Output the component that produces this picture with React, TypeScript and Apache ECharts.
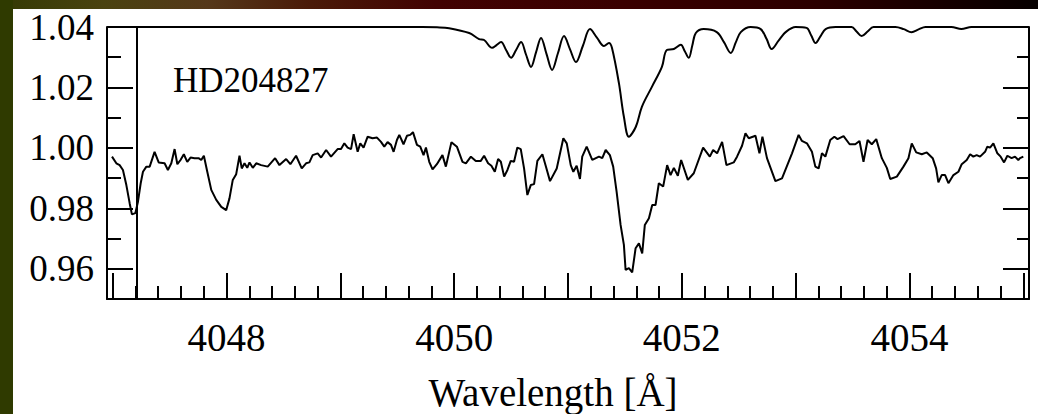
import React, { useEffect, useRef } from "react";
import * as echarts from "echarts";

// Axis ranges
const X_MIN = 4046.95;
const X_MAX = 4055.05;
const Y_MIN = 0.95;
const Y_MAX = 1.04;

const starName = "HD204827";
const xTitle = "Wavelength [Å]";

// Tick positions
const xMajorTicks = [4047, 4048, 4049, 4050, 4051, 4052, 4053, 4054, 4055];
const xLabelTicks = [4048, 4050, 4052, 4054];
const yMajorTicks = [0.96, 0.98, 1.0, 1.02, 1.04];
const yMinorTicks = [0.97, 0.99, 1.01, 1.03];

// Vertical marker line
const markerWavelength = 4047.21;

// Upper (smooth) reference spectrum
const referenceWavelength = [
  4046.95, 4049.719, 4049.85, 4049.956, 4050.132, 4050.219, 4050.263, 4050.333, 4050.372, 4050.412,
  4050.456, 4050.5, 4050.544, 4050.588, 4050.631, 4050.675, 4050.719, 4050.763, 4050.811, 4050.86,
  4050.912, 4050.965, 4051.017, 4051.07, 4051.131, 4051.193, 4051.254, 4051.316, 4051.36, 4051.386,
  4051.447, 4051.491, 4051.535, 4051.596, 4051.649, 4051.737, 4051.825, 4051.868, 4051.93, 4051.991,
  4052.026, 4052.061, 4052.092, 4052.123, 4052.193, 4052.307, 4052.37, 4052.43, 4052.474, 4052.518,
  4052.605, 4052.693, 4052.745, 4052.789, 4052.85, 4052.912, 4053.0, 4053.096, 4053.137, 4053.175,
  4053.219, 4053.263, 4053.351, 4053.491, 4053.535, 4053.579, 4053.632, 4053.684, 4053.877, 4053.95,
  4054.018, 4054.08, 4054.14, 4054.368, 4054.456, 4054.544, 4055.05,
];
const referenceFlux = [
  1.04, 1.04, 1.0399, 1.0396, 1.038, 1.036, 1.0357, 1.0331, 1.034, 1.035,
  1.0324, 1.0298, 1.0324, 1.035, 1.0309, 1.0268, 1.0316, 1.0364, 1.0311, 1.0258,
  1.0314, 1.037, 1.0327, 1.0284, 1.0338, 1.0393, 1.0365, 1.0337, 1.0347, 1.0331,
  1.0215, 1.0103, 1.0037, 1.007, 1.0136, 1.0202, 1.0268, 1.0324, 1.0327, 1.0341,
  1.032, 1.0298, 1.0339, 1.038, 1.0393, 1.0383, 1.035, 1.0314, 1.0349, 1.0383,
  1.04, 1.0393, 1.036, 1.0327, 1.0355, 1.0383, 1.04, 1.0397, 1.0372, 1.0347,
  1.037, 1.0393, 1.04, 1.04, 1.0385, 1.037, 1.0385, 1.04, 1.04, 1.0393,
  1.0383, 1.0392, 1.04, 1.04, 1.0393, 1.04, 1.04,
];

// Lower (observed) spectrum
const observedWavelength = [
  4046.994, 4047.032, 4047.061, 4047.09, 4047.12, 4047.149, 4047.169, 4047.199, 4047.222, 4047.246,
  4047.266, 4047.296, 4047.325, 4047.368, 4047.404, 4047.456, 4047.485, 4047.515, 4047.544, 4047.568,
  4047.596, 4047.625, 4047.655, 4047.684, 4047.719, 4047.754, 4047.778, 4047.801, 4047.831, 4047.866,
  4047.91, 4047.954, 4047.997, 4048.026, 4048.055, 4048.085, 4048.114, 4048.134, 4048.158, 4048.182,
  4048.202, 4048.231, 4048.261, 4048.304, 4048.362, 4048.427, 4048.465, 4048.524, 4048.561, 4048.611,
  4048.661, 4048.699, 4048.728, 4048.757, 4048.801, 4048.831, 4048.875, 4048.918, 4048.976, 4049.006,
  4049.035, 4049.064, 4049.094, 4049.117, 4049.152, 4049.175, 4049.204, 4049.24, 4049.283, 4049.322,
  4049.357, 4049.386, 4049.415, 4049.445, 4049.468, 4049.497, 4049.518, 4049.555, 4049.585, 4049.614,
  4049.638, 4049.673, 4049.702, 4049.731, 4049.752, 4049.781, 4049.81, 4049.848, 4049.897, 4049.927,
  4049.976, 4050.024, 4050.073, 4050.103, 4050.147, 4050.19, 4050.234, 4050.263, 4050.298, 4050.327,
  4050.357, 4050.386, 4050.41, 4050.439, 4050.468, 4050.497, 4050.526, 4050.555, 4050.585, 4050.614,
  4050.643, 4050.673, 4050.702, 4050.731, 4050.775, 4050.804, 4050.842, 4050.901, 4050.959, 4050.989,
  4051.024, 4051.047, 4051.076, 4051.105, 4051.125, 4051.164, 4051.213, 4051.272, 4051.301, 4051.331,
  4051.368, 4051.397, 4051.427, 4051.462, 4051.491, 4051.506, 4051.535, 4051.564, 4051.594, 4051.623,
  4051.652, 4051.675, 4051.711, 4051.74, 4051.769, 4051.798, 4051.836, 4051.871, 4051.901, 4051.93,
  4051.965, 4051.994, 4052.053, 4052.105, 4052.187, 4052.246, 4052.275, 4052.31, 4052.354, 4052.392,
  4052.456, 4052.485, 4052.529, 4052.559, 4052.588, 4052.647, 4052.682, 4052.708, 4052.748, 4052.822,
  4052.88, 4052.968, 4053.026, 4053.055, 4053.099, 4053.143, 4053.173, 4053.202, 4053.231, 4053.261,
  4053.304, 4053.34, 4053.368, 4053.421, 4053.474, 4053.524, 4053.561, 4053.596, 4053.632, 4053.669,
  4053.708, 4053.757, 4053.801, 4053.831, 4053.889, 4053.947, 4053.991, 4054.02, 4054.059, 4054.108,
  4054.152, 4054.204, 4054.234, 4054.254, 4054.283, 4054.313, 4054.342, 4054.386, 4054.43, 4054.459,
  4054.503, 4054.533, 4054.561, 4054.59, 4054.62, 4054.664, 4054.684, 4054.708, 4054.737, 4054.772,
  4054.801, 4054.831, 4054.86, 4054.897, 4054.927, 4054.956, 4054.971, 4055.0,
];
const observedFlux = [
  0.9971, 0.9949, 0.9943, 0.9927, 0.9877, 0.9817, 0.978, 0.9784, 0.9822, 0.9883,
  0.9921, 0.9938, 0.9938, 0.9987, 0.9952, 0.9949, 0.9927, 0.9949, 0.9996, 0.9946,
  0.996, 0.9979, 0.9954, 0.9968, 0.9966, 0.9966, 0.996, 0.9974, 0.9921, 0.9861,
  0.9828, 0.9805, 0.9794, 0.9833, 0.9894, 0.9913, 0.9974, 0.9932, 0.9949, 0.9934,
  0.9952, 0.9934, 0.9949, 0.9943, 0.9938, 0.9966, 0.9943, 0.9963, 0.9946, 0.9974,
  0.9932, 0.9949, 0.9952, 0.9976, 0.9982, 0.9968, 0.9993, 0.9971, 0.9996, 0.9996,
  1.0015, 1.0001, 0.9996, 1.0045, 0.9987, 1.0015, 1.0001, 1.0037, 1.0032, 1.0034,
  1.002, 1.0004, 1.0019, 1.001, 0.9987, 1.0026, 1.0043, 1.0012, 1.004, 1.0043,
  1.0052, 1.001, 1.0004, 0.9976, 1.0001, 0.9954, 0.9929, 0.9946, 0.9976, 0.9938,
  1.0019, 1.0004, 0.9954, 0.9949, 0.9971, 0.9957, 0.9957, 0.9974, 0.9949, 0.9941,
  0.9921, 0.9963, 0.9954, 0.9905, 0.9927, 0.9957, 0.9954, 1.0001, 0.9996, 0.9932,
  0.9844, 0.9877, 0.988, 0.9957, 0.9979, 0.9941, 0.989, 0.9932, 1.0032, 1.0015,
  0.9943, 0.9921, 0.9941, 0.9897, 0.9971, 1.0004, 0.996, 0.9971, 0.9966, 0.9993,
  0.9976, 0.9938, 0.9855, 0.9745, 0.9679, 0.9596, 0.9602, 0.9588, 0.9668, 0.9684,
  0.9651, 0.9745, 0.9767, 0.9811, 0.9811, 0.9883, 0.9872, 0.9943, 0.991, 0.9934,
  0.9908, 0.996, 0.9894, 0.9916, 1.0001, 0.9971, 0.9993, 0.9982, 1.002, 0.9943,
  0.9952, 0.9971, 1.0007, 1.0048, 1.0032, 1.004, 0.9982, 1.0037, 0.9966, 0.989,
  0.9899, 0.9982, 1.0043, 1.0023, 1.0015, 0.9987, 0.9938, 0.9932, 0.9982, 0.9971,
  1.0026, 1.0037, 1.0029, 1.0039, 1.0012, 1.0012, 1.0023, 0.9954, 1.0026, 1.0012,
  1.0029, 0.9966, 0.9934, 0.9897, 0.9905, 0.9938, 0.9966, 1.0015, 0.9985, 0.9979,
  0.9985, 0.9966, 0.9932, 0.9886, 0.991, 0.991, 0.9883, 0.991, 0.9921, 0.9946,
  0.996, 0.9979, 0.9971, 0.9976, 0.9971, 0.9987, 1.0004, 1.0001, 1.0015, 0.9982,
  0.9971, 0.9952, 0.9974, 0.9966, 0.9971, 0.996, 0.9966, 0.9971,
];

const SERIF = "Liberation Serif";
const INK = "#000";

// Minor wavelength ticks every 0.2 Å between the major ticks
const xMinorTicks: number[] = [];
for (let i = 0; i < xMajorTicks.length - 1; i++) {
  for (let k = 1; k < 5; k++) xMinorTicks.push(+(xMajorTicks[i] + k * 0.2).toFixed(1));
}

const zip = (xs: number[], ys: number[]) => xs.map((x, i) => [x, ys[i]]);

const tickAxisX = (ticks: number[], length: number, showLine: boolean) => ({
  type: "value",
  min: X_MIN,
  max: X_MAX,
  position: "bottom",
  axisLine: { show: showLine, onZero: false, lineStyle: { color: INK, width: 2 } },
  axisTick: { show: true, inside: true, length, customValues: ticks, lineStyle: { color: INK, width: 2 } },
  axisLabel: { show: false },
  splitLine: { show: false },
});

const tickAxisY = (position: "left" | "right", ticks: number[], length: number, showLine: boolean) => ({
  type: "value",
  min: Y_MIN,
  max: Y_MAX,
  position,
  axisLine: { show: showLine, onZero: false, lineStyle: { color: INK, width: 2 } },
  axisTick: { show: true, inside: true, length, customValues: ticks, lineStyle: { color: INK, width: 2 } },
  axisLabel: { show: false },
  splitLine: { show: false },
});

const serifText = (x: number, y: number, text: string, size: number, align: string) => ({
  type: "text",
  x,
  y,
  silent: true,
  style: { text, font: `${size}px ${SERIF}`, fill: INK, align, verticalAlign: "middle" },
});

export default function App() {
  const ref = useRef<HTMLDivElement>(null);

  useEffect(() => {
    if (!ref.current) return;
    const chart = echarts.init(ref.current, undefined, { renderer: "svg" });
    chart.setOption({
      animation: false,
      backgroundColor: "transparent",
      grid: { left: 107, right: 9, top: 27, bottom: 115, containLabel: false },
      xAxis: [tickAxisX(xMajorTicks, 26, true), tickAxisX(xMinorTicks, 13, false)],
      yAxis: [
        tickAxisY("left", yMajorTicks, 26, true),
        tickAxisY("left", yMinorTicks, 14, false),
        tickAxisY("right", yMajorTicks, 26, true),
        tickAxisY("right", yMinorTicks, 12, false),
      ],
      series: [
        {
          name: "reference",
          type: "line",
          xAxisIndex: 0,
          yAxisIndex: 0,
          data: zip(referenceWavelength, referenceFlux),
          showSymbol: false,
          smooth: 0.35,
          lineStyle: { color: INK, width: 2 },
          silent: true,
        },
        {
          name: "observed",
          type: "line",
          xAxisIndex: 0,
          yAxisIndex: 0,
          data: zip(observedWavelength, observedFlux),
          showSymbol: false,
          lineStyle: { color: INK, width: 2 },
          silent: true,
          markLine: {
            silent: true,
            symbol: "none",
            label: { show: false },
            lineStyle: { color: INK, width: 2, type: "solid" },
            data: [{ xAxis: markerWavelength }],
          },
        },
      ],
    });

    // Serif tick labels placed at the axis scale positions
    const xLabels = xLabelTicks.map((v) =>
      serifText(chart.convertToPixel({ xAxisIndex: 0 }, v) as number, 337, String(v), 39, "center")
    );
    const yLabels = yMajorTicks.map((v) =>
      serifText(94, chart.convertToPixel({ yAxisIndex: 0 }, v) as number, v.toFixed(2), 37, "right")
    );
    chart.setOption({
      graphic: [
        serifText(173, 80, starName, 35, "left"),
        serifText(553, 392, xTitle, 39, "center"),
        ...xLabels,
        ...yLabels,
      ],
    });
    return () => chart.dispose();
  }, []);

  return (
    <div
      style={{
        position: "fixed",
        left: 0,
        top: 0,
        width: 1038,
        height: 414,
        overflow: "hidden",
        background:
          "linear-gradient(to right, #343a04 0%, #4a4210 10%, #55381a 20%, #4a1a08 30%, #420202 42%, #3a0000 60%, #2c0000 78%, #140000 92%, #060000 100%)",
      }}
    >
      <div style={{ position: "absolute", left: 0, top: 0, width: 13, height: 414, background: "#2f3a00" }} />
      <div style={{ position: "absolute", left: 13, top: 9, right: 0, bottom: 0, background: "#ffffff" }} />
      <div ref={ref} style={{ position: "absolute", left: 0, top: 0, width: 1038, height: 414 }} />
    </div>
  );
}
